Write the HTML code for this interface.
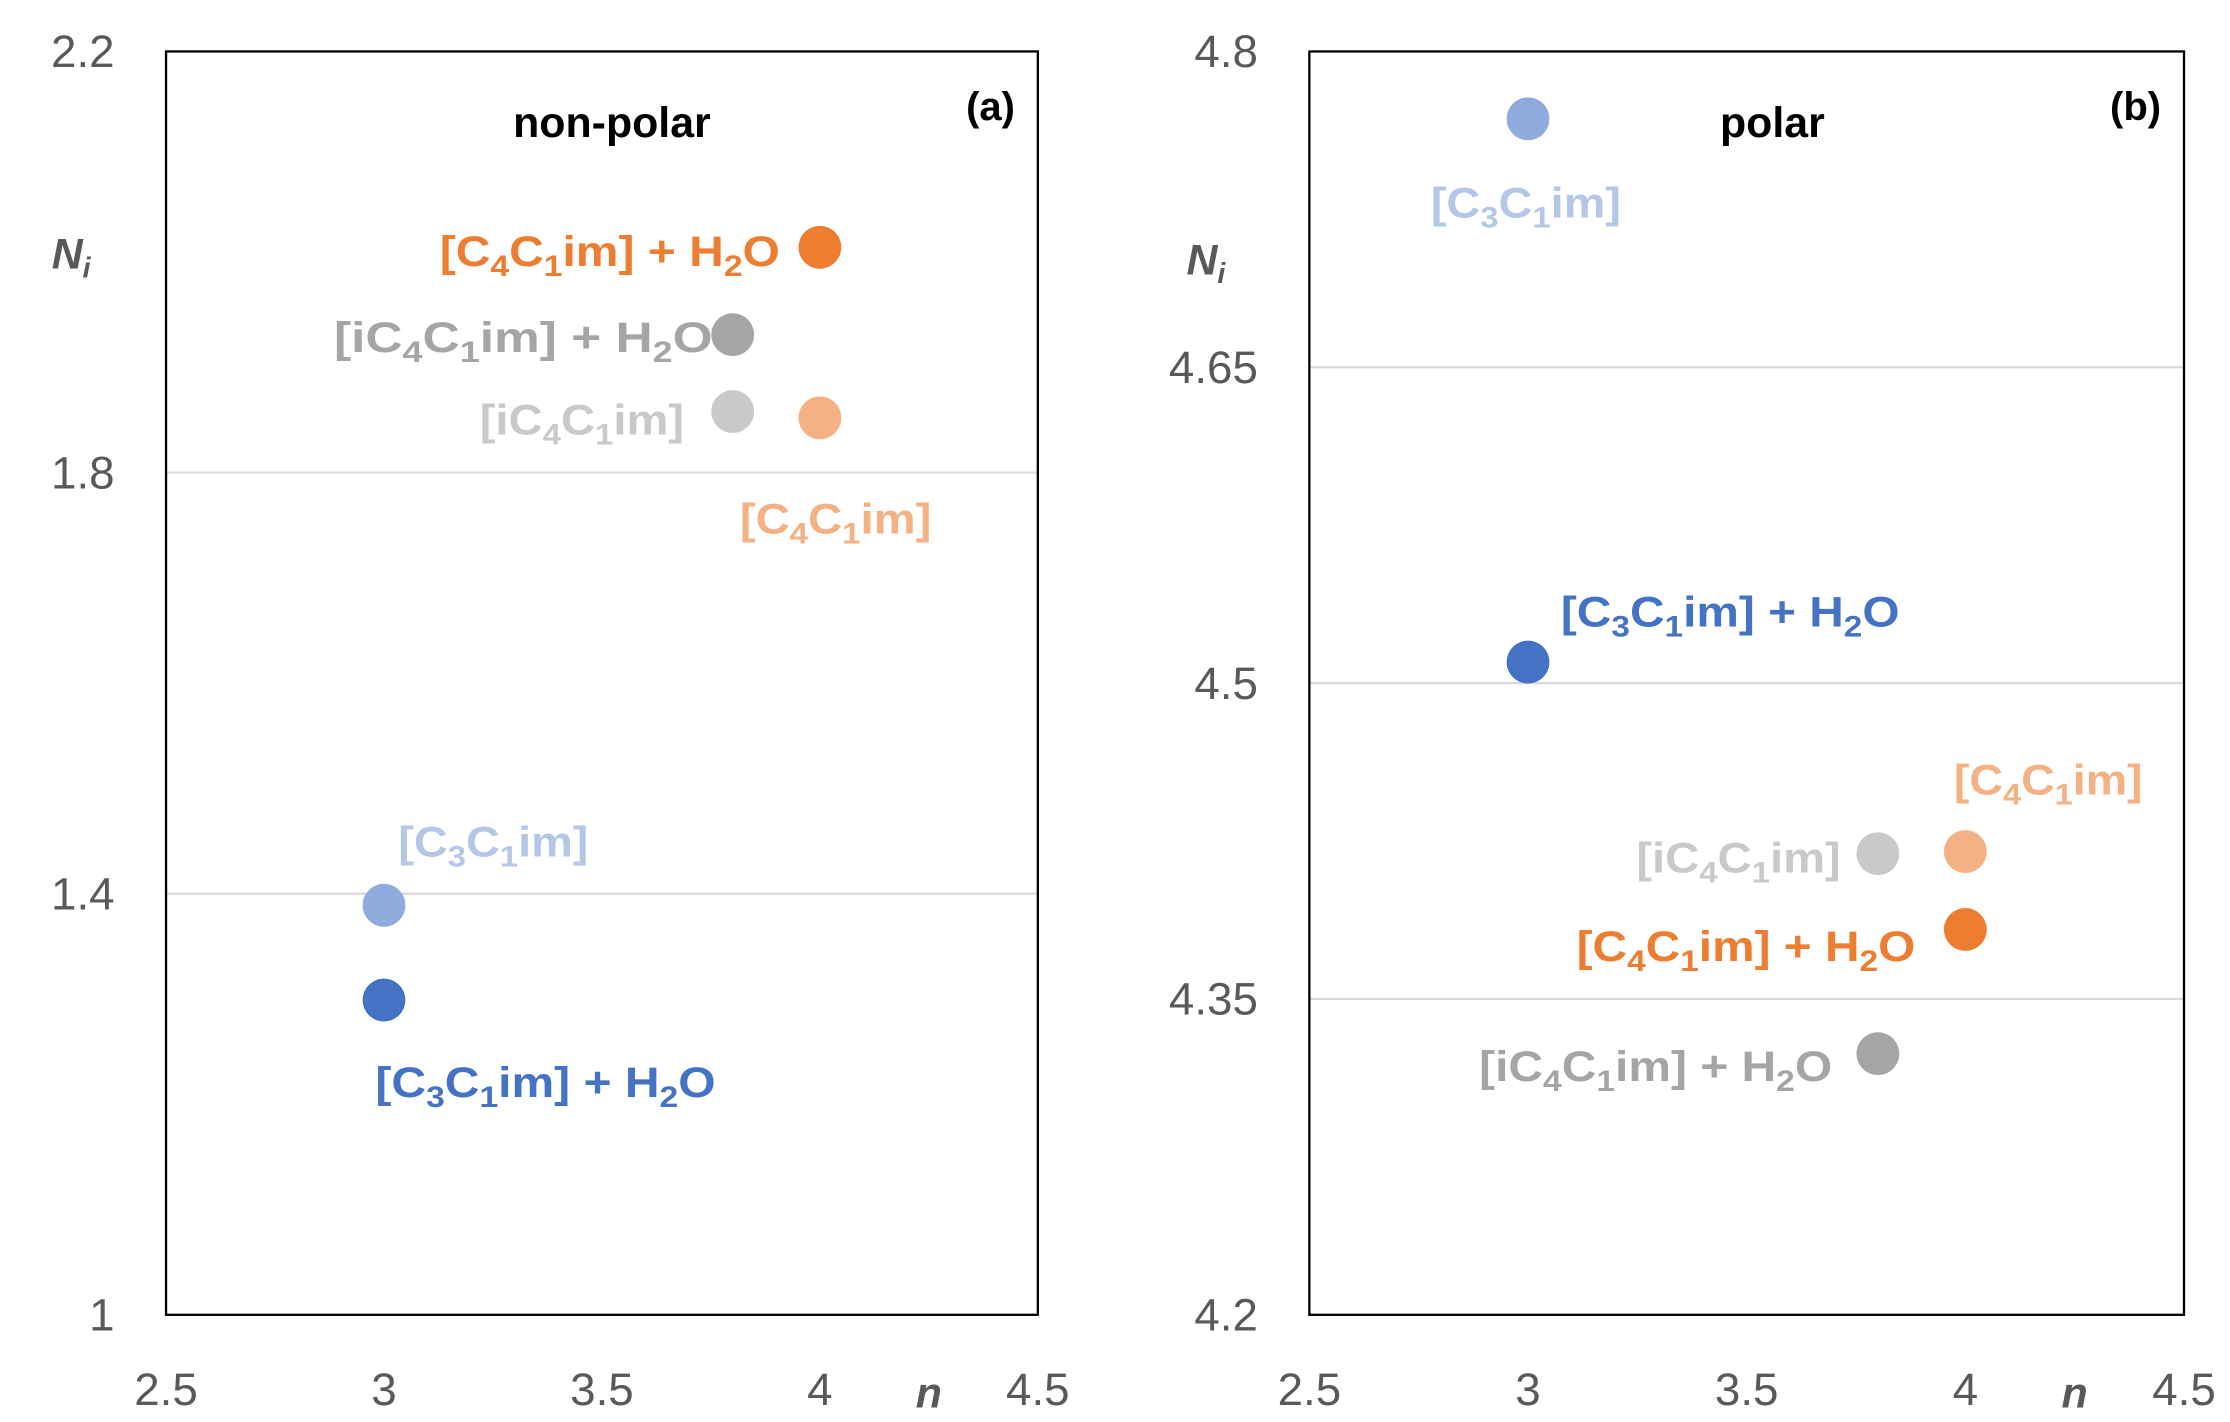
<!DOCTYPE html>
<html><head><meta charset="utf-8">
<style>
html,body{margin:0;padding:0;background:#fff;}
svg{display:block;font-family:"Liberation Sans",sans-serif;}
</style></head>
<body>
<svg id="chart" width="2230" height="1422" viewBox="0 0 1560 995" xmlns="http://www.w3.org/2000/svg"></svg>
<script>
// Panel (a) non-polar
const seriesNamesA = ["C4C1im+H2O","iC4C1im+H2O","iC4C1im","C4C1im","C3C1im","C3C1im+H2O"];
const xValuesA = [4, 3.8, 3.8, 4, 3, 3];
const yValuesA = [2.014, 1.931, 1.858, 1.852, 1.389, 1.299];
const yTicksA = [1, 1.4, 1.8, 2.2];
const yTickLabelsA = ["1", "1.4", "1.8", "2.2"];
// Panel (b) polar
const seriesNamesB = ["C3C1im","C3C1im+H2O","iC4C1im","C4C1im","C4C1im+H2O","iC4C1im+H2O"];
const xValuesB = [3, 3, 3.8, 4, 4, 3.8];
const yValuesB = [4.768, 4.510, 4.419, 4.420, 4.383, 4.324];
const yTicksB = [4.2, 4.35, 4.5, 4.65, 4.8];
const yTickLabelsB = ["4.2", "4.35", "4.5", "4.65", "4.8"];
const xTicks = [2.5, 3, 3.5, 4, 4.5];
const xTickLabels = ["2.5", "3", "3.5", "4", "4.5"];

const NS = "http://www.w3.org/2000/svg";
const svg = document.getElementById("chart");
const colors = {
  "C4C1im+H2O":"#ed7d31","iC4C1im+H2O":"#a5a5a5","iC4C1im":"#c9c9c9",
  "C4C1im":"#f4b183","C3C1im":"#8faadc","C3C1im+H2O":"#4472c4"};
const labelColors = {
  "C4C1im+H2O":"#ed7d31","iC4C1im+H2O":"#a5a5a5","iC4C1im":"#c9c9c9",
  "C4C1im":"#f4b183","C3C1im":"#b4c7e7","C3C1im+H2O":"#4472c4"};

function mk(tag, attrs, parent){
  const e = document.createElementNS(NS, tag);
  for (const k in attrs) e.setAttribute(k, attrs[k]);
  (parent||svg).appendChild(e);
  return e;
}
function labelText(g, name, x, y, anchor, len){
  const t = mk("text", {x:x, y:y, "text-anchor":anchor, "font-size":30, "font-weight":"bold",
    fill:labelColors[name], textLength:len, lengthAdjust:"spacingAndGlyphs"}, g);
  
  
  const iso = name.startsWith("i");
  const n = name.includes("C4") ? "4" : "3";
  const parts = [["[" + (iso?"i":"") + "C",0],[n,1],["C",0],["1",1],["im]",0]];
  if (name.includes("H2O")) parts.push([" + H",0],["2",1],["O",0]);
  let cur = 0;
  parts.forEach(p=>{
    const target = p[1] ? 7 : 0;
    const a = {};
    if (target !== cur) a.dy = target - cur;
    if (p[1]) a["font-size"] = 21;
    cur = target;
    const s = mk("tspan", a, t);
    s.textContent = p[0];
  });
  return t;
}

function panel(cfg){
  const g = mk("g", {});
  
  
  const L=cfg.left, R=cfg.right, T=36, B=920;
  const xs = v => L + (v-2.5)/2*(R-L);
  const ys = v => B - (v-cfg.ymin)/(cfg.ymax-cfg.ymin)*(B-T);
  cfg.yTicks.forEach((v,i)=>{
    if (v!==cfg.ymin && v!==cfg.ymax){
      const gl = mk("line",{x1:L,x2:R,y1:ys(v),y2:ys(v),stroke:"#d9d9d9","stroke-width":1.5},g);
      
      
    }
    const t = mk("text",{x:L-36,y:ys(v)+11,"text-anchor":"end","font-size":32,fill:"#595959"},g);
    
    
    t.textContent = cfg.yLabels[i];
  });
  xTicks.forEach((v,i)=>{
    const t = mk("text",{x:xs(v),y:983,"text-anchor":"middle","font-size":32,fill:"#595959"},g);
    
    
    t.textContent = xTickLabels[i];
  });
  const box = mk("rect",{x:L,y:T,width:R-L,height:B-T,fill:"none",stroke:"#000","stroke-width":1.6},g);
  
  
  const title = mk("text",{x:cfg.titleX,y:96,"text-anchor":"middle","font-size":30,"font-weight":"bold",fill:"#000"},g);
  
  
  title.textContent = cfg.title;
  const tag = mk("text",{x:R-16,y:84,"text-anchor":"end","font-size":28,"font-weight":"bold",fill:"#000"},g);
  
  
  tag.textContent = cfg.tag;
  const yt = mk("text",{x:cfg.niX,y:cfg.niY,"font-size":30,"font-weight":"bold","font-style":"italic",fill:"#595959"},g);
  
  
  yt.innerHTML = 'N<tspan font-size="20" dy="6">i</tspan>';
  const xt = mk("text",{x:L+(R-L)*0.86,y:985,"font-size":30,"font-weight":"bold","font-style":"italic",fill:"#595959"},g);
  
  
  xt.textContent = "n";
  cfg.names.forEach((nm,i)=>{
    const cx = xs(cfg.xv[i]), cy = ys(cfg.yv[i]);
    const c = mk("circle",{cx:cx,cy:cy,r:15,fill:colors[nm]},g);
    
    
    const lp = cfg.labels[i];
    labelText(g, nm, cx+lp[0], cy+lp[1], lp[2], lp[3]);
  });
}

panel({name:"panel-a-nonpolar",left:116,right:726,ymin:1,ymax:2.2,yTicks:yTicksA,yLabels:yTickLabelsA,
  title:"non-polar",titleX:428,tag:"(a)",niX:36,niY:188,names:seriesNamesA,xv:xValuesA,yv:yValuesA,
  labels:[[-28,13,"end",238],[-14,12,"end",265],[-34,16,"end",143],[-56,81,"start",134],[10,-34,"start",133],[-6,68,"start",238]]});
panel({name:"panel-b-polar",left:916,right:1528,ymin:4.2,ymax:4.8,yTicks:yTicksB,yLabels:yTickLabelsB,
  title:"polar",titleX:1240,tag:"(b)",niX:830,niY:192,names:seriesNamesB,xv:xValuesB,yv:yValuesB,
  labels:[[-68,69,"start",133],[23,-25,"start",237],[-26,13,"end",143],[-8,-40,"start",132],[-35,22,"end",237],[-32,19,"end",247]]});
</script>
</body></html>
